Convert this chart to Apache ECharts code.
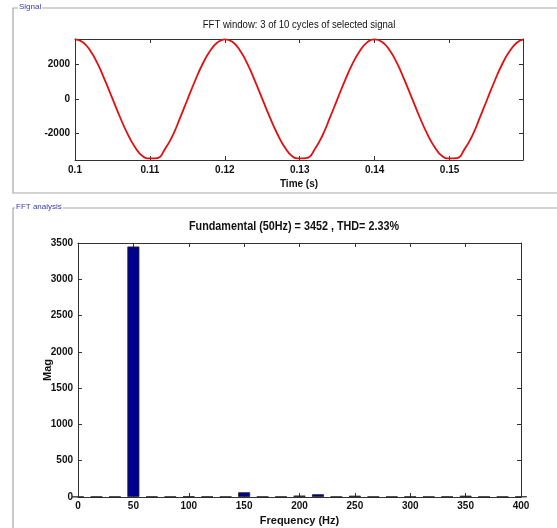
<!DOCTYPE html>
<html>
<head>
<meta charset="UTF-8">
<title>FFT analysis</title>
<style>
html,body{margin:0;padding:0;background:#fff;}
#charts{width:557px;height:528px;}
</style>
</head>
<body>
<div id="charts"></div>
<script src="https://cdn.jsdelivr.net/npm/echarts@6/dist/echarts.min.js"></script>
<script>
var FONT = "'Liberation Sans', Arial, sans-serif";

var sampleTimes = [
  0.100,0.101,0.102,0.103,0.104,0.105,0.106,0.107,0.108,0.109,
  0.110,0.111,0.112,0.113,0.114,0.115,0.116,0.117,0.118,0.119,
  0.120,0.121,0.122,0.123,0.124,0.125,0.126,0.127,0.128,0.129,
  0.130,0.131,0.132,0.133,0.134,0.135,0.136,0.137,0.138,0.139,
  0.140,0.141,0.142,0.143,0.144,0.145,0.146,0.147,0.148,0.149,
  0.150,0.151,0.152,0.153,0.154,0.155,0.156,0.157,0.158,0.159,0.1598
];
var signalValues = [
  3450,3300,2820,2060,1080,20,-1040,-2000,-2780,-3300,
  -3440,-3420,-2900,-2150,-1120,-40,1030,2000,2760,3270,
  3450,3310,2830,2050,1070,10,-1050,-2010,-2790,-3310,
  -3440,-3410,-2910,-2140,-1110,-30,1040,2010,2770,3280,
  3450,3300,2820,2060,1080,20,-1040,-2000,-2780,-3300,
  -3440,-3420,-2900,-2150,-1120,-40,1030,2000,2760,3270,3440
];
var timeTicks = [0.1, 0.11, 0.12, 0.13, 0.14, 0.15];
var signalTicks = [-2000, 0, 2000];

// FFT bins (3 cycle window -> 16.67 Hz resolution)
var freqs = [0,16.67,33.33,50,66.67,83.33,100,116.67,133.33,150,166.67,183.33,200,
  216.67,233.33,250,266.67,283.33,300,316.67,333.33,350,366.67,383.33,400];
var mags = [4,5,5,3452,6,5,8,6,5,65,5,5,20,38,5,18,5,5,6,5,6,18,5,5,6];

var fundamentalTitle = 'Fundamental (50Hz) = 3452 , THD= 2.33%';
var signalTitle = 'FFT window: 3 of 10 cycles of selected signal';

var mycharts = echarts.init(document.getElementById('charts'), null, {renderer: 'canvas'});

var signalData = [];
for (var i = 0; i < sampleTimes.length; i++) {
  signalData.push([sampleTimes[i], signalValues[i]]);
}
var fftData = [];
for (var j = 0; j < freqs.length; j++) {
  fftData.push([freqs[j], mags[j]]);
}

var plain = function (v) { return String(+v.toFixed(4)); };
var axisLine = {show: true, onZero: false, lineStyle: {color: '#333', width: 1}};
var tick = {show: true, inside: true, length: 4, lineStyle: {color: '#333'}};
var lbl = {color: '#111', fontFamily: FONT, fontWeight: 'bold', fontSize: 10, formatter: plain};
var nameStyle = {color: '#111', fontFamily: FONT, fontSize: 11, fontWeight: 'bold'};

var option = {
  animation: false,
  backgroundColor: '#fff',
  grid: [
    {left: 75, top: 39, width: 448, height: 121, show: false},
    {left: 78, top: 243, width: 443, height: 254, show: false}
  ],
  xAxis: [
    {
      type: 'value', gridIndex: 0, min: 0.1, max: 0.1598,
      name: 'Time (s)', nameLocation: 'middle', nameGap: 19, nameMoveOverlap: false,
      nameTextStyle: Object.assign({}, nameStyle, {fontSize: 10}),
      axisLine: axisLine, splitLine: {show: false},
      axisTick: Object.assign({customValues: timeTicks}, tick),
      axisLabel: Object.assign({customValues: timeTicks, margin: 5}, lbl)
    },
    {
      type: 'value', gridIndex: 0, min: 0.1, max: 0.1598, position: 'top',
      axisLine: axisLine, splitLine: {show: false},
      axisTick: Object.assign({customValues: timeTicks}, tick),
      axisLabel: {show: false}
    },
    {
      type: 'value', gridIndex: 1, min: 0, max: 400, interval: 50,
      name: 'Frequency (Hz)', nameLocation: 'middle', nameGap: 18, nameMoveOverlap: false,
      nameTextStyle: nameStyle,
      axisLine: axisLine, splitLine: {show: false},
      axisTick: tick,
      axisLabel: Object.assign({margin: 4}, lbl)
    },
    {
      type: 'value', gridIndex: 1, min: 0, max: 400, interval: 50, position: 'top',
      axisLine: axisLine, splitLine: {show: false},
      axisTick: tick, axisLabel: {show: false}
    }
  ],
  yAxis: [
    {
      type: 'value', gridIndex: 0, min: -3530, max: 3475,
      axisLine: axisLine, splitLine: {show: false},
      axisTick: Object.assign({customValues: signalTicks}, tick),
      axisLabel: Object.assign({customValues: signalTicks, margin: 5}, lbl)
    },
    {
      type: 'value', gridIndex: 0, min: -3530, max: 3475, position: 'right',
      axisLine: axisLine, splitLine: {show: false},
      axisTick: Object.assign({customValues: signalTicks}, tick),
      axisLabel: {show: false}
    },
    {
      type: 'value', gridIndex: 1, min: 0, max: 3500, interval: 500,
      name: 'Mag', nameLocation: 'middle', nameGap: 25, nameMoveOverlap: false,
      nameTextStyle: nameStyle,
      axisLine: axisLine, splitLine: {show: false},
      axisTick: tick,
      axisLabel: Object.assign({margin: 5}, lbl)
    },
    {
      type: 'value', gridIndex: 1, min: 0, max: 3500, interval: 500, position: 'right',
      axisLine: axisLine, splitLine: {show: false},
      axisTick: tick, axisLabel: {show: false}
    }
  ],
  series: [
    {
      name: 'signal', type: 'line', xAxisIndex: 0, yAxisIndex: 0,
      data: signalData, smooth: true, showSymbol: false,
      lineStyle: {color: '#e01010', width: 1.8}
    },
    {
      name: 'fft', type: 'bar', xAxisIndex: 2, yAxisIndex: 2,
      data: fftData, barWidth: 12,
      itemStyle: {color: '#000090', borderColor: '#222', borderWidth: 0.8}
    }
  ],
  graphic: [
    // group boxes
    {type: 'polyline', shape: {points: [[557, 8], [13, 8], [13, 193], [557, 193]]},
      style: {stroke: '#a8a8a8', fill: null, lineWidth: 1.2}, silent: true},
    {type: 'polyline', shape: {points: [[557, 208], [13, 208], [13, 528]]},
      style: {stroke: '#a8a8a8', fill: null, lineWidth: 1.2}, silent: true},
    {type: 'text', left: 18, top: 3,
      style: {text: 'Signal', fill: '#3a3aa8', font: '8px ' + FONT, backgroundColor: '#fff', padding: [0, 1]}},
    {type: 'text', left: 15, top: 203,
      style: {text: 'FFT analysis', fill: '#3a3aa8', font: '8px ' + FONT, backgroundColor: '#fff', padding: [0, 1]}},
    // titles
    {type: 'text', x: 299, y: 25, scaleX: 0.87,
      style: {text: signalTitle, fill: '#111', font: '11px ' + FONT, textAlign: 'center', textVerticalAlign: 'middle'}},
    {type: 'text', x: 294, y: 227, scaleX: 0.9,
      style: {text: fundamentalTitle, fill: '#111', font: 'bold 12px ' + FONT, textAlign: 'center', textVerticalAlign: 'middle'}}
  ]
};
mycharts.setOption(option);
</script>
</body>
</html>
